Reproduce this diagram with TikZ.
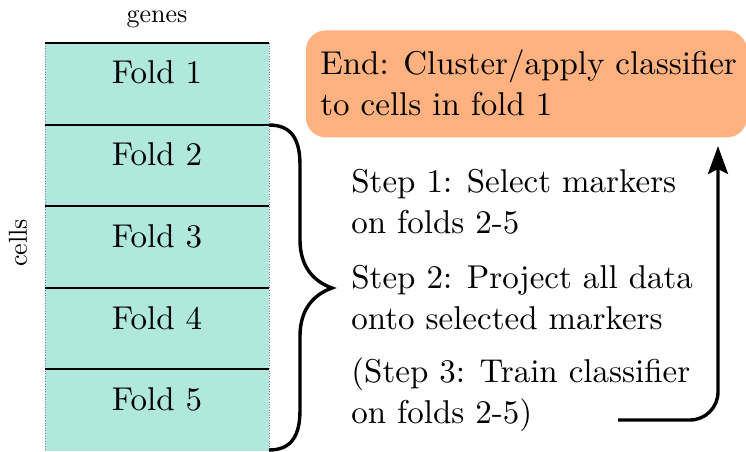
\documentclass[tikz,border=0pt]{standalone}
\usepackage{fontspec}
\setmainfont{lmroman10-regular}[Extension=.otf]
\usetikzlibrary{arrows.meta}
\definecolor{foldfill}{RGB}{176,232,221}
\definecolor{endfill}{RGB}{255,178,128}
\begin{document}
\begin{tikzpicture}[x=0.5pt,y=-0.5pt,
  mainfont/.style={font=\fontsize{16.5}{20.5}\selectfont},
  foldlabel/.style={mainfont,anchor=base},
  steptext/.style={mainfont,anchor=base west,align=left,inner sep=0pt},
  thickline/.style={line width=1.7pt}]
\useasboundingbox (0,0) rectangle (746,451);
% table
\fill[foldfill] (45,43) rectangle (269,451);
\draw[gray,densely dotted,line width=0.3pt] (45,43) -- (45,451);
\draw[gray,densely dotted,line width=0.3pt] (269,43) -- (269,451);
\foreach \y in {43,125,206,288,369}{\draw[line width=0.6pt] (45,\y) -- (269,\y);}
\node[foldlabel] (f1) at (157,83) {Fold 1};
\node[foldlabel] (f2) at (157,165) {Fold 2};
\node[foldlabel] (f3) at (157,247) {Fold 3};
\node[foldlabel] (f4) at (157,329) {Fold 4};
\node[foldlabel] (f5) at (157,410) {Fold 5};
\node[font=\fontsize{13}{16}\selectfont] (genes) at (157,19) {genes};
\node[font=\fontsize{13}{16}\selectfont,rotate=90] (cells) at (18,243) {cells};
% brace
\coordinate (bt) at (269,125);
\coordinate (bb) at (269,450);
\coordinate (tip) at (332,288);
\draw[thickline,line join=miter]
  (bt) .. controls (292,125) and (300,140) .. (300,165) -- (300,240)
  .. controls (300,268) and (315,282) .. (tip)
  .. controls (315,294) and (300,308) .. (300,336) -- (300,410)
  .. controls (300,435) and (292,450) .. (bb);
% end box
\node[fill=endfill,rounded corners=10pt,minimum width=220.5pt,minimum height=53.5pt,anchor=north west,inner sep=0pt] (endbox) at (305.5,30) {};
\node[steptext] (endtext) at (320,115) {End: Cluster/apply classifier\\to cells in fold 1};
% steps
\node[steptext] (s1) at (351,233) {Step 1: Select markers\\on folds 2-5};
\node[steptext] (s2) at (351,329) {Step 2: Project all data\\onto selected markers};
\node[steptext] (s3) at (351,423) {(Step 3: Train classifier\\on folds 2-5)};
\coordinate (as) at (618,420);
\coordinate (ae) at (718,146);
\draw[thickline,-{Stealth[length=14pt,width=10pt,inset=2.5pt]},rounded corners=14pt] (as) -- (718,420) -- (ae);
\end{tikzpicture}
\end{document}
